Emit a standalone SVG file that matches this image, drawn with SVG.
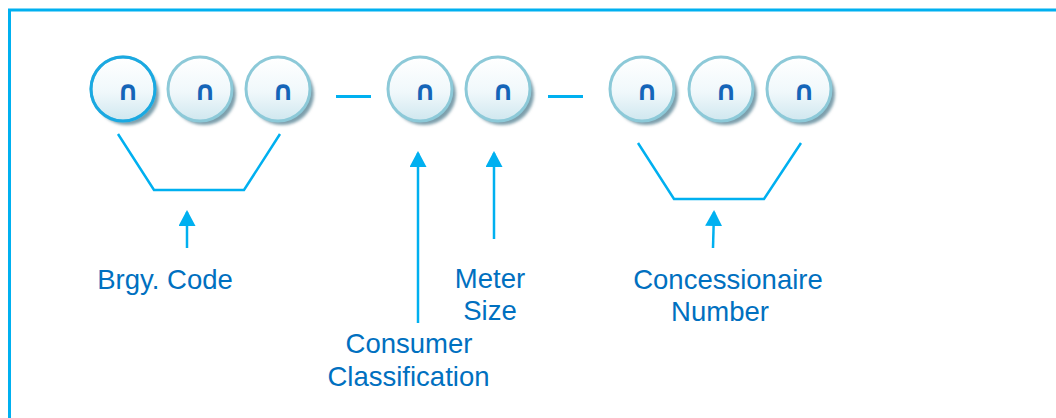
<svg xmlns="http://www.w3.org/2000/svg" width="1056" height="418" viewBox="0 0 1056 418">
  <defs>
    <linearGradient id="bead" x1="0" y1="0" x2="0" y2="1">
      <stop offset="0" stop-color="#ffffff"/>
      <stop offset="0.55" stop-color="#f0f8fb"/>
      <stop offset="1" stop-color="#cfe7ef"/>
    </linearGradient>
    <filter id="soft" x="-30%" y="-30%" width="160%" height="160%">
      <feGaussianBlur stdDeviation="1.6"/>
    </filter>
    <marker id="tip" viewBox="0 0 16 17" refX="14" refY="8.5" markerWidth="16" markerHeight="17" markerUnits="userSpaceOnUse" orient="auto">
      <path d="M0,0 L16,8.5 L0,17 Z" fill="#00B0F0"/>
    </marker>
    <g id="digit">
      <ellipse cx="4" cy="5" rx="32" ry="31" fill="#7d9fac" filter="url(#soft)"/>
      <circle r="32" fill="url(#bead)" stroke="#8cc9d8" stroke-width="3"/>
      <text x="5" y="11" class="glyph">∩</text>
    </g>
  </defs>
  <style>
    .frame { fill: none; stroke: #00B0F0; stroke-width: 3; }
    .line { fill: none; stroke: #00B0F0; stroke-width: 2.5; }
    .dash { stroke: #00B0F0; stroke-width: 3; }
    .glyph { font-family: "DejaVu Sans", sans-serif; font-size: 27px; font-weight: bold; fill: #1565b8; text-anchor: middle; }
    .label { font-family: "Liberation Sans", Arial, sans-serif; font-size: 27.5px; fill: #0070C0; text-anchor: middle; }
  </style>

  <rect width="1056" height="418" fill="#ffffff"/>
  <!-- outer frame: top and left edges only -->
  <path class="frame" d="M9.5,418 V10 H1056"/>

  <!-- barangay code digits -->
  <g id="brgy-digits">
    <use href="#digit" x="123" y="89"/>
    <circle cx="123" cy="89" r="32" fill="none" stroke="#1aa9e2" stroke-width="3"/>
    <use href="#digit" x="200" y="89"/>
    <use href="#digit" x="278" y="89"/>
  </g>
  <!-- classification and meter size digits -->
  <g id="class-digits">
    <use href="#digit" x="420" y="89"/>
    <use href="#digit" x="498" y="89"/>
  </g>
  <!-- concessionaire number digits -->
  <g id="number-digits">
    <use href="#digit" x="642" y="89"/>
    <use href="#digit" x="721" y="89"/>
    <use href="#digit" x="799" y="89"/>
  </g>

  <!-- separators -->
  <g id="separators">
    <line class="dash" x1="336" y1="96.5" x2="371" y2="96.5"/>
    <line class="dash" x1="548" y1="96.5" x2="583" y2="96.5"/>
  </g>

  <!-- brackets and arrows -->
  <g id="connectors">
    <path class="line" d="M118,134 L154,190 H244 L280,134"/>
    <path class="line" d="M638,143 L674,199 H764 L801,143"/>
    <line class="line" x1="187" y1="248" x2="187" y2="212" marker-end="url(#tip)"/>
    <line class="line" x1="418" y1="323" x2="418" y2="153" marker-end="url(#tip)"/>
    <line class="line" x1="494" y1="239" x2="494" y2="153" marker-end="url(#tip)"/>
    <line class="line" x1="713" y1="248" x2="714" y2="212" marker-end="url(#tip)"/>
  </g>

  <!-- labels -->
  <g id="label-brgy">
    <text class="label" x="165" y="289">Brgy. Code</text>
  </g>
  <g id="label-meter">
    <text class="label" x="490" y="288">Meter</text>
    <text class="label" x="490" y="320">Size</text>
  </g>
  <g id="label-consumer">
    <text class="label" x="409" y="353">Consumer</text>
    <text class="label" x="408.5" y="386">Classification</text>
  </g>
  <g id="label-concessionaire">
    <text class="label" x="728" y="289">Concessionaire</text>
    <text class="label" x="720" y="321">Number</text>
  </g>
</svg>
